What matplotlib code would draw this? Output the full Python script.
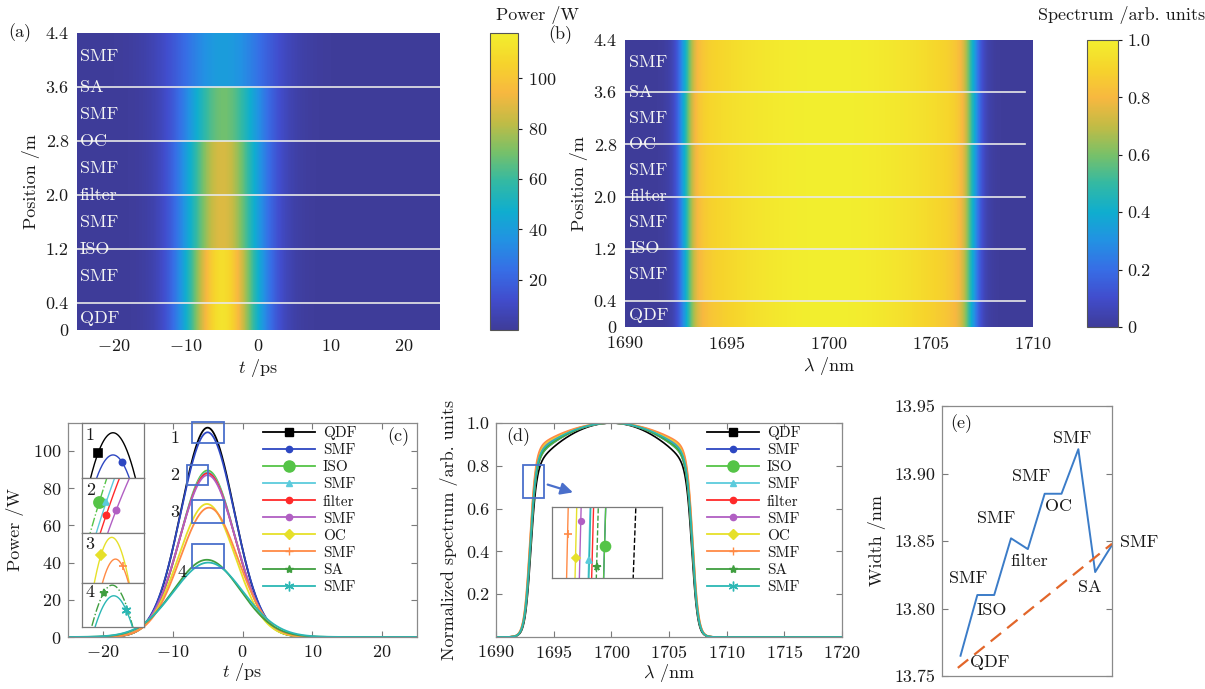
import numpy as np
import matplotlib
matplotlib.use('Agg')
import matplotlib.pyplot as plt
from matplotlib.colors import LinearSegmentedColormap
from matplotlib.lines import Line2D
from matplotlib.patches import Rectangle

plt.rcParams['font.family'] = 'serif'
plt.rcParams['font.serif'] = ['cmr10']
plt.rcParams['mathtext.fontset'] = 'cm'
plt.rcParams['axes.formatter.use_mathtext'] = True
plt.rcParams['font.size'] = 13
plt.rcParams['text.color'] = '#1a1a1a'
plt.rcParams['axes.labelcolor'] = '#1a1a1a'
plt.rcParams['xtick.color'] = '#1a1a1a'
plt.rcParams['ytick.color'] = '#1a1a1a'

# components along the cavity (legend order)
components = ['QDF', 'SMF', 'ISO', 'SMF', 'filter', 'SMF', 'OC', 'SMF', 'SA', 'SMF']

# pulse after each component
peak_power = [112.5, 110.0, 89.5, 88.5, 88.0, 87.0, 71.5, 69.5, 41.5, 40.0]   # W
pulse_sigma = [3.8, 3.85, 3.9, 3.95, 3.95, 4.0, 4.05, 4.15, 4.8, 5.0]          # ps
pulse_center = [-5.0, -5.0, -5.0, -5.0, -5.0, -5.0, -5.1, -4.8, -5.1, -4.9]  # ps

# spectral width after each component, panel (e)
width_nm = [13.765, 13.810, 13.810, 13.852, 13.844, 13.885, 13.885, 13.918, 13.827, 13.847]
top_curv = [0.22, 0.18, 0.18, 0.16, 0.165, 0.15, 0.14, 0.13, 0.17, 0.16]
center_nm = 1700.0
trend_x = [0.84, 10.0]
trend_y = [13.756, 13.848]

# fibre sections of the ring for the evolution maps
seg_edges = [0.0, 0.4, 1.2, 2.0, 2.8, 3.6, 4.4]
seg_curve = [0, 1, 3, 5, 7, 9]
label_pos = [0.18, 0.8, 1.2, 1.6, 2.0, 2.4, 2.8, 3.2, 3.6, 4.05]

colors = ['#000000', '#2d47c2', '#55c447', '#5ccbdc', '#ff2a2a',
          '#b15fc3', '#e6e02a', '#ff8a45', '#3f9e3f', '#2bb7b4']
markers = ['s', 'o', 'o', '^', 'o', 'o', 'D', '+', '*', (6, 2, 0)]
msizes = [6, 4.5, 8, 4.5, 4.5, 4.5, 5, 6, 6, 7]

# parula-like map (MATLAB default), toned like the printed figure
parula = LinearSegmentedColormap.from_list('parula', [
    (0.245, 0.235, 0.600), (0.255, 0.300, 0.800), (0.215, 0.430, 0.900),
    (0.135, 0.570, 0.890), (0.060, 0.680, 0.810), (0.200, 0.725, 0.640),
    (0.470, 0.755, 0.410), (0.760, 0.735, 0.270), (0.970, 0.720, 0.250),
    (0.965, 0.830, 0.170), (0.950, 0.935, 0.180)])

t = np.linspace(-25, 25, 2001)
lam = np.linspace(1690, 1720, 3001)


def pulse(i, tt):
    return peak_power[i] * np.exp(-(tt - pulse_center[i]) ** 2 / (2 * pulse_sigma[i] ** 2))


def spectrum(i, ll):
    d = np.abs(ll - center_nm)
    a = width_nm[i] / 2 + 0.12
    top = np.clip(1 - top_curv[i] * (d / a) ** 2, 0, None)
    edge = 1 / (1 + np.exp((d - a) / 0.25))
    return top * edge


P = [pulse(i, t) for i in range(10)]
S = [spectrum(i, lam) for i in range(10)]

fig = plt.figure(figsize=(12.05, 6.89), dpi=100)
W, H = 1205.0, 689.0


def box(l, r, top, bot):
    return [l / W, 1 - bot / H, (r - l) / W, (bot - top) / H]


def frame(ax, col='#8a8a8a'):
    for s in ax.spines.values():
        s.set_color(col)
        s.set_linewidth(0.9)


# ---------- (a) power evolution ----------
ax_a = fig.add_axes(box(77, 440, 33, 330))
t_mid = 0.5 * (t[1:] + t[:-1])
pmap = np.array([pulse(k, t_mid) for k in seg_curve])
mesh_a = ax_a.pcolormesh(t, seg_edges, pmap, cmap=parula, vmin=0, vmax=118, shading='flat')
for y in seg_edges[1:-1]:
    ax_a.axhline(y, color='#e8e8e8', lw=1.2)
for name, y in zip(components, label_pos):
    ax_a.text(-24.6, y, name, color='#f4f4f4', va='center', ha='left', fontsize=13)
ax_a.set_xlim(-25, 25)
ax_a.set_ylim(0, 4.4)
ax_a.set_xticks([-20, -10, 0, 10, 20])
ax_a.set_yticks(seg_edges)
ax_a.set_yticklabels(['0', '0.4', '1.2', '2.0', '2.8', '3.6', '4.4'])
ax_a.tick_params(length=0, pad=6)
for s in ax_a.spines.values():
    s.set_visible(False)
ax_a.set_xlabel('$t$ /ps', labelpad=2)
ax_a.set_ylabel('Position /m', labelpad=4)
fig.text(8 / W, 1 - 33 / H, '(a)', va='center', ha='left', fontsize=13)

cax_a = fig.add_axes(box(490, 518, 33, 330))
cb_a = fig.colorbar(mesh_a, cax=cax_a)
cb_a.set_ticks([20, 40, 60, 80, 100])
cb_a.outline.set_edgecolor('#555555')
cb_a.outline.set_linewidth(0.8)
cax_a.tick_params(length=3, width=0.8, pad=4)
fig.text(537 / W, 1 - 15 / H, 'Power /W', ha='center', va='center', fontsize=13)

# ---------- (b) spectrum evolution ----------
ax_b = fig.add_axes(box(625, 1033, 40, 327))
lam_b = np.linspace(1690, 1710, 1201)
lam_mid = 0.5 * (lam_b[1:] + lam_b[:-1])
smap = np.array([spectrum(k, lam_mid) for k in seg_curve])
mesh_b = ax_b.pcolormesh(lam_b, seg_edges, smap, cmap=parula, vmin=0, vmax=1, shading='flat')
for y in seg_edges[1:-1]:
    ax_b.plot([1690, 1709.6], [y, y], color='#e8e8e8', lw=1.2)
for name, y in zip(components, label_pos):
    ax_b.text(1690.2, y, name, color='#f4f4f4', va='center', ha='left', fontsize=13)
ax_b.set_xlim(1690, 1710)
ax_b.set_ylim(0, 4.4)
ax_b.set_xticks([1690, 1695, 1700, 1705, 1710])
ax_b.set_yticks(seg_edges)
ax_b.set_yticklabels(['0', '0.4', '1.2', '2.0', '2.8', '3.6', '4.4'])
ax_b.tick_params(length=0, pad=6)
for s in ax_b.spines.values():
    s.set_visible(False)
ax_b.set_xlabel(r'$\lambda$ /nm', labelpad=2)
ax_b.set_ylabel('Position /m', labelpad=4)
fig.text(548 / W, 1 - 35 / H, '(b)', va='center', ha='left', fontsize=13)

cax_b = fig.add_axes(box(1087, 1118, 40, 327))
cb_b = fig.colorbar(mesh_b, cax=cax_b)
cb_b.set_ticks([0, 0.2, 0.4, 0.6, 0.8, 1.0])
cb_b.set_ticklabels(['0', '0.2', '0.4', '0.6', '0.8', '1.0'])
cb_b.outline.set_edgecolor('#555555')
cb_b.outline.set_linewidth(0.8)
cax_b.tick_params(length=3, width=0.8, pad=4)
fig.text(1122 / W, 1 - 15 / H, 'Spectrum /arb. units', ha='center', va='center', fontsize=13)


def handles():
    return [Line2D([], [], color=colors[i], lw=1.3, marker=markers[i], ms=msizes[i],
                   mfc=colors[i], mec=colors[i]) for i in range(10)]


def ticks_in(ax):
    ax.tick_params(direction='in', top=True, right=True, length=4, width=0.8,
                   color='#7a7a7a', pad=5)


def flank_point(x, y, target, side, x0):
    mask = (x < x0) if side == 'l' else (x > x0)
    idx = np.where(mask)[0]
    j = idx[np.argmin(np.abs(y[idx] - target))]
    return x[j], y[j]


# ---------- (c) pulses ----------
ax_c = fig.add_axes(box(68, 417, 423, 637))
for i in range(10):
    ax_c.plot(t, P[i], color=colors[i], lw=1.3)
ax_c.set_xlim(-25, 25)
ax_c.set_ylim(0, 115)
ax_c.set_xticks([-20, -10, 0, 10, 20])
ax_c.set_yticks([0, 20, 40, 60, 80, 100])
ticks_in(ax_c)
frame(ax_c)
ax_c.set_xlabel('$t$ /ps', labelpad=1)
ax_c.set_ylabel('Power /W', labelpad=6)
zoom_boxes = [(-7.3, -2.6, 104.3, 115.6), (-7.9, -5.0, 81.7, 92.5),
              (-7.3, -2.6, 61.3, 73.6), (-7.3, -2.6, 37.0, 50.0)]
for k, (x0, x1, y0, y1) in enumerate(zoom_boxes):
    ax_c.add_patch(Rectangle((x0, y0), x1 - x0, y1 - y0, fill=False,
                             ec='#4a6fcb', lw=1.3, clip_on=False, zorder=5))
for txt, (x, y) in zip(['1', '2', '3', '4'], [(-9.7, 107), (-9.7, 87), (-9.7, 67), (-8.6, 35)]):
    ax_c.text(x, y, txt, ha='center', va='center', fontsize=13)
ax_c.legend(handles(), components, loc='upper left', bbox_to_anchor=(0.56, 0.985),
            frameon=False, fontsize=11, handlelength=3.4, labelspacing=0.22,
            borderaxespad=0, borderpad=0, handletextpad=0.5)
ax_c.text(0.946, 0.935, '(c)', transform=ax_c.transAxes, ha='center', va='center', fontsize=13)

# insets of (c): curves, window, markers (curve, fraction from top, flank)
c_insets = [
    ([0, 1], (-6.6, -3.4), (107.4, 113.6), [(0, 0.55, 'l'), (1, 0.70, 'r')], (423, 478)),
    ([2, 3, 4, 5], (-6.75, -5.85), (82.0, 84.0),
     [(2, 0.39, 'l'), (3, 0.47, 'l'), (4, 0.71, 'l'), (5, 0.55, 'l')], (478, 533)),
    ([6, 7], (-7.5, -2.5), (67.3, 71.9), [(6, 0.44, 'l'), (7, 0.67, 'r')], (533, 583)),
    ([8, 9], (-9.0, -1.0), (35.6, 41.8), [(8, 0.23, 'l'), (9, 0.61, 'r')], (583, 627)),
]
for k, (curves, xl, yl, mk, (top, bot)) in enumerate(c_insets):
    iax = fig.add_axes(box(82, 144, top, bot))
    for i in curves:
        ls = '-.' if i in (2, 8) else '-'
        iax.plot(t, P[i], color=colors[i], lw=1.0, ls=ls)
    for i, frac, side in mk:
        target = yl[1] - frac * (yl[1] - yl[0])
        x, y = flank_point(t, P[i], target, side, pulse_center[i])
        iax.plot([x], [y], marker=markers[i], ms=msizes[i], color=colors[i],
                 mec=colors[i], mfc=colors[i], mew=1.2)
    iax.set_xlim(*xl)
    iax.set_ylim(*yl)
    iax.set_xticks([])
    iax.set_yticks([])
    frame(iax, '#7a7a7a')
    iax.text(0.06, 0.78, str(k + 1), transform=iax.transAxes, fontsize=13,
             ha='left', va='center')

# ---------- (d) spectra ----------
ax_d = fig.add_axes(box(496, 842, 423, 637))
for i in range(10):
    ax_d.plot(lam, S[i], color=colors[i], lw=1.2)
ax_d.set_xlim(1690, 1720)
ax_d.set_ylim(0, 1.0)
ax_d.set_xticks([1690, 1695, 1700, 1705, 1710, 1715, 1720])
ax_d.set_yticks([0.2, 0.4, 0.6, 0.8, 1.0])
ax_d.set_yticklabels(['0.2', '0.4', '0.6', '0.8', '1.0'])
ticks_in(ax_d)
frame(ax_d)
ax_d.set_xlabel(r'$\lambda$ /nm', labelpad=1)
ax_d.set_ylabel('Normalized spectrum /arb. units', labelpad=6)
ax_d.add_patch(Rectangle((1692.3, 0.65), 1.9, 0.155, fill=False, ec='#4a6fcb', lw=1.3, zorder=5))
ax_d.annotate('', xy=(1696.9, 0.672), xytext=(1694.25, 0.716),
              arrowprops=dict(arrowstyle='-|>', color='#4a6fcb', lw=1.6, mutation_scale=18))
ax_d.legend(handles(), components, loc='upper left', bbox_to_anchor=(0.61, 0.985),
            frameon=False, fontsize=11, handlelength=3.4, labelspacing=0.22,
            borderaxespad=0, borderpad=0, handletextpad=0.5)
ax_d.text(0.064, 0.935, '(d)', transform=ax_d.transAxes, ha='center', va='center', fontsize=13)

# inset of (d): left edges around S = 0.75
level, dy = 0.75, 0.0015
left = lam < center_nm
cross = [np.interp(level, S[i][left], lam[left]) for i in range(10)]
span = (max(cross) - min(cross)) / 0.61
x0 = min(cross) - 0.14 * span
dax = fig.add_axes(box(552, 662, 507, 578))
d_marks = [0.31, 0.12, 0.25, 0.29, 0.10, 0.13, 0.33, 0.33, 0.52, 0.44]
for i in range(10):
    ls = '--' if i in (0, 8) else '-'
    dax.plot(lam, S[i], color=colors[i], lw=1.0, ls=ls)
for i in range(10):
    target = level + dy - d_marks[i] * 2 * dy
    x, y = flank_point(lam, S[i], target, 'l', center_nm)
    dax.plot([x], [y], marker=markers[i], ms=msizes[i] * 0.9, color=colors[i],
             mec=colors[i], mfc=colors[i], mew=1.2)
dax.set_xlim(x0, x0 + span)
dax.set_ylim(level - dy, level + dy)
dax.set_xticks([])
dax.set_yticks([])
frame(dax, '#7a7a7a')

# ---------- (e) spectral width ----------
ax_e = fig.add_axes(box(942, 1112, 406, 676))
steps = np.arange(1, 11)
ax_e.plot(steps, width_nm, color='#3b7cc8', lw=1.4)
ax_e.plot(trend_x, trend_y, color='#e2662a', lw=1.6, dashes=(6, 3.5))
ax_e.set_xlim(-0.1, 10)
ax_e.set_ylim(13.75, 13.95)
ax_e.set_xticks([])
ax_e.set_yticks([13.75, 13.80, 13.85, 13.90, 13.95])
ax_e.set_yticklabels(['13.75', '13.80', '13.85', '13.90', '13.95'])
ticks_in(ax_e)
frame(ax_e)
ax_e.set_ylabel('Width /nm', labelpad=6)
e_label_pos = [(2.72, 13.760), (1.44, 13.822), (2.88, 13.799), (3.12, 13.867),
               (5.10, 13.835), (5.20, 13.898), (6.85, 13.876), (7.62, 13.926),
               (8.67, 13.816), (11.6, 13.849)]
for name, (x, y) in zip(components, e_label_pos):
    ax_e.text(x, y, name, ha='center', va='center', fontsize=13, clip_on=False)
ax_e.text(1.05, 13.937, '(e)', ha='center', va='center', fontsize=13)

fig.savefig('out.png', dpi=100)
